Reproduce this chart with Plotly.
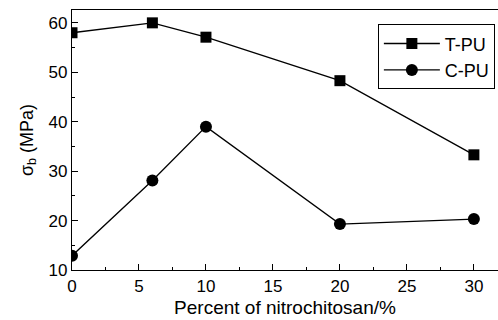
import plotly.graph_objects as go

# Tensile strength vs. nitrochitosan content
percent = [0, 6, 10, 20, 30]
t_pu = [58.0, 60.0, 57.1, 48.3, 33.3]
c_pu = [12.9, 28.1, 39.0, 19.3, 20.3]

x_ticks = [0, 5, 10, 15, 20, 25, 30]
y_ticks = [10, 20, 30, 40, 50, 60]

FONT = "Liberation Sans, Arial, sans-serif"

fig = go.Figure()
fig.add_trace(go.Scatter(
    x=percent, y=t_pu, name="T-PU", mode="lines+markers",
    line=dict(color="black", width=1.3),
    marker=dict(symbol="square", size=11, color="black"),
))
fig.add_trace(go.Scatter(
    x=percent, y=c_pu, name="C-PU", mode="lines+markers",
    line=dict(color="black", width=1.3),
    marker=dict(symbol="circle", size=12, color="black"),
))

fig.update_layout(
    width=498, height=320,
    margin=dict(l=72, r=0, t=10, b=50),
    paper_bgcolor="white", plot_bgcolor="white",
    font=dict(family=FONT, size=16, color="black"),
    legend=dict(
        x=0.718, y=0.945, xanchor="left", yanchor="top",
        bordercolor="black", borderwidth=1, bgcolor="white",
        font=dict(size=18), tracegroupgap=0, itemwidth=56,
    ),
    xaxis=dict(
        range=[0, 31.8], tickvals=x_ticks,
        showline=True, linecolor="black", linewidth=1.3, mirror=True,
        ticks="inside", ticklen=6, tickwidth=1, tickcolor="black",
        minor=dict(dtick=2.5, ticks="inside", ticklen=3, tickcolor="black"),
        showgrid=False, zeroline=False,
        tickfont=dict(size=17),
        title=dict(text="Percent of nitrochitosan/%", font=dict(size=19), standoff=6),
    ),
    yaxis=dict(
        range=[10, 62.6], tickvals=y_ticks,
        showline=True, linecolor="black", linewidth=1.3,
        ticks="inside", ticklen=6, tickwidth=1, tickcolor="black",
        minor=dict(dtick=5, ticks="inside", ticklen=3, tickcolor="black"),
        showgrid=False, zeroline=False,
        tickfont=dict(size=17),
        title=dict(text="σ<sub>b</sub> (MPa)", font=dict(size=18), standoff=10),
    ),
)

fig.write_html("out.html")
